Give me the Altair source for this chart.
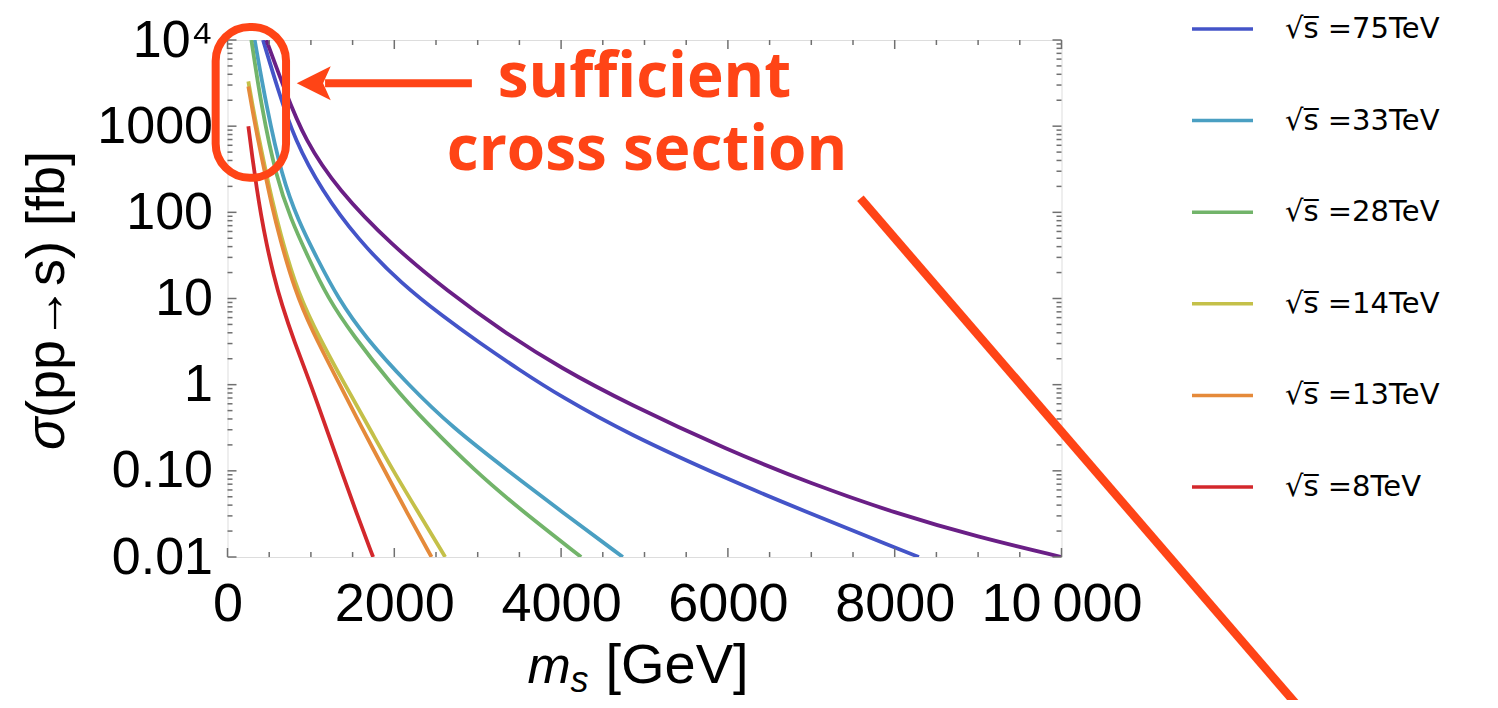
import altair as alt
import pandas as pd

# ---------------- data ----------------
labels = ["√s\u0305 =75TeV", "√s\u0305 =33TeV", "√s\u0305 =28TeV",
          "√s\u0305 =14TeV", "√s\u0305 =13TeV", "√s\u0305 =8TeV"]
colors = ["#4454c8", "#4a9fc2", "#72b46a", "#c4c049", "#e58a3a", "#d3282c"]

m_75 = [426, 606, 806, 1126, 1566, 2086, 2600, 3000, 3500, 4000, 4800, 6000, 7000, 8000, 8290]
s_75 = [10000, 2630, 692, 182, 47.9, 14.8, 6.03, 3.16, 1.48, 0.724, 0.269, 0.0794, 0.0316, 0.0129, 0.01]

m_33 = [326, 466, 650, 850, 1066, 1326, 1650, 2166, 2700, 3366, 4000, 4740]
s_33 = [10000, 1698, 263, 79.4, 30.2, 10.0, 3.55, 1.0, 0.316, 0.1, 0.0339, 0.01]

m_28 = [286, 406, 580, 760, 966, 1206, 1500, 1966, 2400, 2966, 3500, 4240]
s_28 = [10000, 1698, 263, 83.2, 30.2, 10.0, 3.80, 1.0, 0.347, 0.1, 0.0363, 0.01]

m_14 = [250, 300, 366, 450, 526, 626, 806, 1000, 1406, 1700, 1986, 2300, 2610]
s_14 = [3311, 1738, 813, 331, 151, 60.3, 15.1, 5.37, 1.0, 0.316, 0.1, 0.0316, 0.01]

m_13 = [250, 300, 366, 450, 526, 626, 806, 1000, 1346, 1600, 1886, 2150, 2446]
s_13 = [2884, 1514, 692, 282, 126, 50.1, 12.6, 4.47, 1.0, 0.331, 0.1, 0.0331, 0.01]

m_8 = [250, 300, 350, 400, 466, 550, 650, 800, 1000, 1200, 1366, 1550, 1746]
s_8 = [1000, 417, 191, 95.5, 43.7, 19.1, 8.51, 3.16, 1.0, 0.282, 0.1, 0.0316, 0.01]

# unlabelled (purple) curve
m_top = [466, 686, 926, 1326, 1966, 2646, 3300, 4000, 4800, 6000, 7000, 8000, 9000, 10000]
s_top = [10000, 2630, 692, 182, 41.7, 12.0, 4.17, 1.55, 0.603, 0.174, 0.0708, 0.0324, 0.0170, 0.01]
purple = "#6a1f86"

x_major = [0, 2000, 4000, 6000, 8000, 10000]
x_minor = [500, 1000, 1500, 2500, 3000, 3500, 4500, 5000, 5500, 6500, 7000, 7500,
           8500, 9000, 9500]
y_major = [0.01, 0.1, 1, 10, 100, 1000, 10000]
y_major_labels = ["0.01", "0.10", "1", "10", "100", "1000", "10⁴"]
y_minor = [k * 10.0 ** e for e in range(-2, 4) for k in range(2, 10)]

# annotation geometry (in data units)
ann_box = {"m": [-142], "m2": [702], "sigma": [14160], "sigma2": [252]}
ann_arrow_shaft = {"m": [1170], "m2": [2930], "sigma": [3145]}
ann_arrow_head = {"m": [1034], "sigma": [3145]}
ann_long_line = {"m": [7589], "m2": [12870], "sigma": [145.5], "sigma2": [0.00017]}
ann_text = {"m": [5000, 5030], "sigma": [2181, 310], "t": ["sufficient", "cross section"]}
ANN = "#ff4416"

# ---------------- chart ----------------
W, H = 834, 517
FRAME = "#707070"

rows = []
for lab, ms, ss in zip(labels, [m_75, m_33, m_28, m_14, m_13, m_8],
                       [s_75, s_33, s_28, s_14, s_13, s_8]):
    for m, s in zip(ms, ss):
        rows.append({"series": lab, "m": m, "sigma": s})
df = pd.DataFrame(rows)
df_top = pd.DataFrame({"m": m_top, "sigma": s_top})

xscale = alt.Scale(domain=[0, 10000], nice=False, zero=False)
yscale = alt.Scale(type="log", domain=[0.01, 10000], nice=False)

ylabel_expr = " : ".join(
    f"abs(datum.value - {v}) < {v}*0.001 ? '{l}'" for v, l in zip(y_major, y_major_labels)
) + " : ''"

xaxis = alt.Axis(values=x_major, format="d",
                 labelExpr="datum.value == 10000 ? '10\u2009000' : datum.label",
                 ticks=False, domain=False, grid=False, labelFontSize=54,
                 labelFont="Liberation Sans", labelColor="black", labelPadding=20,
                 labelFlush=False, labelOverlap=False, title=None)
yaxis = alt.Axis(values=y_major, labelExpr=ylabel_expr, ticks=False, domain=False,
                 grid=False, labelFontSize=52, labelFont="Liberation Sans",
                 labelColor="black", labelPadding=15, labelFlush=False,
                 labelOverlap=False, title=None)

X = lambda f="m": alt.X(f"{f}:Q", scale=xscale, axis=xaxis)
Y = lambda f="sigma": alt.Y(f"{f}:Q", scale=yscale, axis=yaxis)

lines = alt.Chart(df).mark_line(strokeWidth=3.8, clip=True, interpolate="basis").encode(
    x=X(), y=Y(),
    color=alt.Color("series:N", scale=alt.Scale(domain=labels, range=colors),
                    legend=alt.Legend(title=None, orient="none", legendX=962.5, legendY=-43.5,
                                      symbolType="stroke", symbolSize=3721,
                                      symbolStrokeWidth=3.5, labelFontSize=29,
                                      labelFont="DejaVu Sans", labelColor="black",
                                      labelOffset=30, rowPadding=43.6, padding=0,
                                      labelLimit=400)),
)
line_top = alt.Chart(df_top).mark_line(strokeWidth=3.8, clip=True, interpolate="basis",
                                       color=purple).encode(x=X(), y=Y())

tick_layers = []
dy_major = pd.DataFrame({"sigma": y_major})
dy_minor = pd.DataFrame({"sigma": y_minor})
dx_major = pd.DataFrame({"m": x_major})
dx_minor = pd.DataFrame({"m": x_minor})
for d, ln in [(dy_major, 9), (dy_minor, 5)]:
    tick_layers.append(alt.Chart(d).mark_rule(color=FRAME, strokeWidth=1.5).encode(
        y=Y(), x=alt.value(0), x2=alt.value(ln)))
    tick_layers.append(alt.Chart(d).mark_rule(color=FRAME, strokeWidth=1.5).encode(
        y=Y(), x=alt.value(W), x2=alt.value(W - ln)))
for d, ln in [(dx_major, 9), (dx_minor, 5)]:
    tick_layers.append(alt.Chart(d).mark_rule(color=FRAME, strokeWidth=1.5).encode(
        x=X(), y=alt.value(H), y2=alt.value(H - ln)))
    tick_layers.append(alt.Chart(d).mark_rule(color=FRAME, strokeWidth=1.5).encode(
        x=X(), y=alt.value(0), y2=alt.value(ln)))

box = alt.Chart(pd.DataFrame(ann_box)).mark_rect(
    fill="white", fillOpacity=0, stroke=ANN, strokeWidth=8, cornerRadius=34, clip=False
).encode(x=X(), x2="m2:Q", y=Y(), y2="sigma2:Q")

shaft = alt.Chart(pd.DataFrame(ann_arrow_shaft)).mark_rule(
    color=ANN, strokeWidth=8, clip=False).encode(x=X(), x2="m2:Q", y=Y())
head = alt.Chart(pd.DataFrame(ann_arrow_head)).mark_point(
    shape="M -1 0 L 1 -1 L 0.55 0 L 1 1 Z", filled=True, size=1156, color=ANN,
    opacity=1, clip=False).encode(x=X(), y=Y())
long_line = alt.Chart(pd.DataFrame(ann_long_line)).mark_rule(
    color=ANN, strokeWidth=8.5, clip=False).encode(x=X(), x2="m2:Q", y=Y(), y2="sigma2:Q")
ann_txt = alt.Chart(pd.DataFrame(ann_text)).mark_text(
    font="Open Sans", fontWeight="bold", fontSize=62, color=ANN, align="center",
    baseline="alphabetic", clip=False).encode(x=X(), y=Y(), text="t:N")

# axis titles as text
def txt(s, x, y, size, style="normal", angle=0):
    return alt.Chart(pd.DataFrame({"t": [s]})).mark_text(
        font="Liberation Sans", fontSize=size, fontStyle=style, color="black",
        align="left", baseline="alphabetic", angle=angle).encode(
        x=alt.value(x), y=alt.value(y), text="t:N")

titles = [
    txt("m", 300, 643, 52, "italic"),
    txt("s", 343, 652, 36, "italic"),
    txt("[GeV]", 378, 643, 56),
    txt("σ", -163.5, 410, 54, "italic", 270),
    txt("(pp→s) [fb]", -163.5, 378, 54, "normal", 270),
]

chart = alt.layer(lines, line_top, *tick_layers, box, shaft, head, long_line, ann_txt,
                  *titles).properties(
    width=W, height=H,
    padding={"left": 219.5, "top": 32, "right": 428.5, "bottom": 143},
    autosize=alt.AutoSizeParams(type="none"),
).configure_view(stroke=FRAME, strokeWidth=2.5).configure(background="white")

chart.save("out.html", embed_options={"renderer": "svg", "actions": False})
